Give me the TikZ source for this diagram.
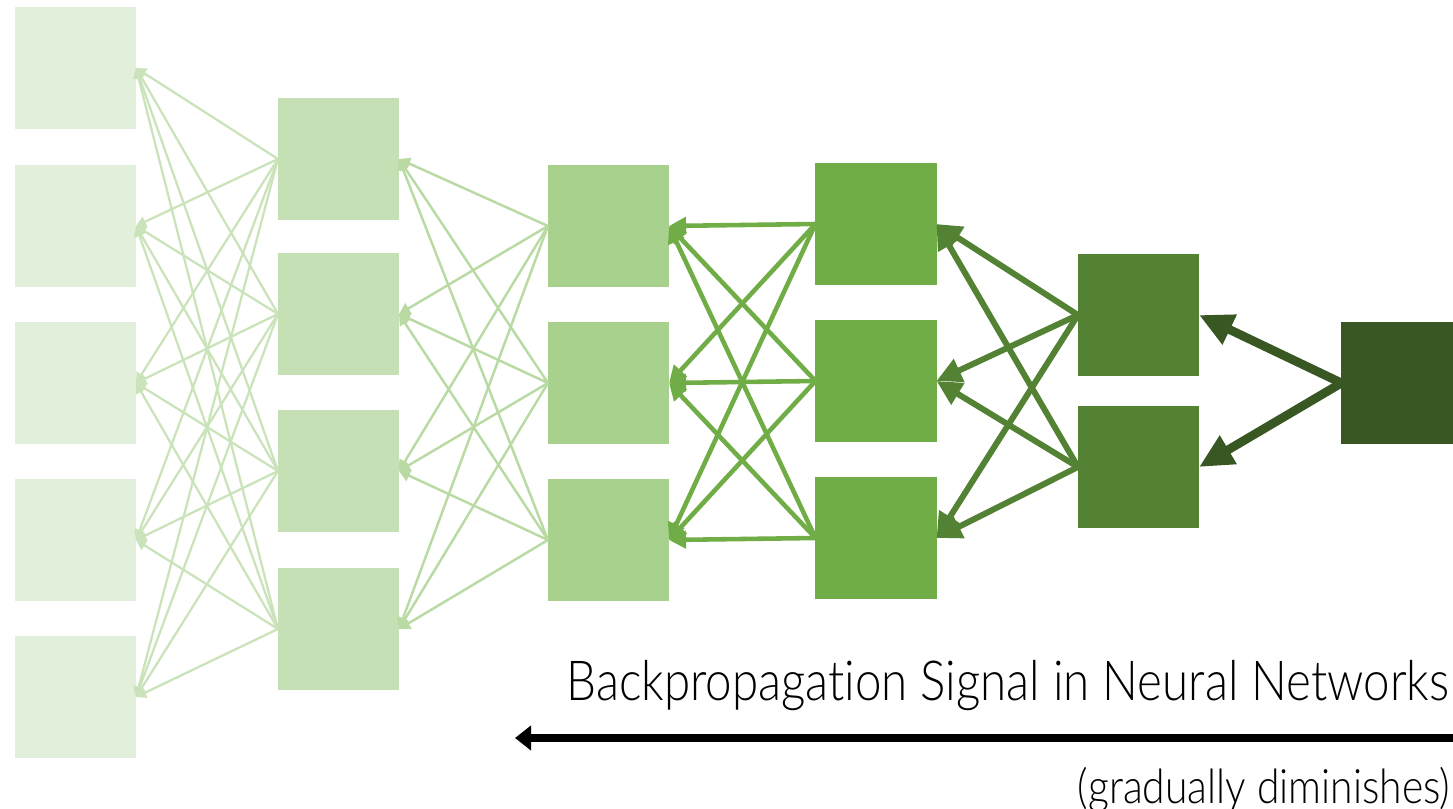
\documentclass[tikz,border=0pt]{standalone}
\usepackage{fontspec}
\setmainfont{Lato Light}[FakeStretch=0.86,Ligatures=NoCommon]
\usetikzlibrary{arrows.meta}

\definecolor{gA}{HTML}{E2EFDA}
\definecolor{gB}{HTML}{C5E0B4}
\definecolor{gC}{HTML}{A9D18E}
\definecolor{gD}{HTML}{70AD47}
\definecolor{gE}{HTML}{548235}
\definecolor{gF}{HTML}{385723}

\tikzset{
  unit/.style={minimum size=1.21cm,inner sep=0pt,outer sep=0pt},
  wAB/.style={gB!90,line width=0.65pt,-{Triangle[length=1mm,width=1.1mm]}},
  wBC/.style={gC!80,line width=0.7pt,-{Triangle[length=1.1mm,width=1.2mm]}},
  wCD/.style={gD,line width=1.3pt,-{Triangle[length=1.7mm,width=1.7mm]}},
  wDE/.style={gE,line width=1.7pt,-{Triangle[length=2.5mm,width=2.4mm]}},
  wEF/.style={gF,line width=2.5pt,-{Triangle[length=3.4mm,width=3.1mm]}}
}

\begin{document}
\begin{tikzpicture}[x=0.01cm,y=-0.01cm]
  \useasboundingbox (0,0) rectangle (1453,809);
  % layers, from input (left) to output (right)
  \foreach \y [count=\i] in {68,226,383,540,697}
    \node[unit,fill=gA] (a\i) at (75.5,\y) {};
  \foreach \y [count=\i] in {159,314,471,629}
    \node[unit,fill=gB] (b\i) at (338.5,\y) {};
  \foreach \y [count=\i] in {226,383,540}
    \node[unit,fill=gC] (c\i) at (608.5,\y) {};
  \foreach \y [count=\i] in {224,381,538}
    \node[unit,fill=gD] (d\i) at (876,\y) {};
  \foreach \y [count=\i] in {315,467}
    \node[unit,fill=gE] (e\i) at (1138.5,\y) {};
  \node[unit,fill=gF] (f1) at (1402,383) {};
  % signal going back
  \foreach \i in {1,...,5} \foreach \j in {1,...,4}
    \draw[wAB] (b\j.west) -- (a\i.east);
  \foreach \i in {1,...,4} \foreach \j in {1,...,3}
    \draw[wBC] (c\j.west) -- (b\i.east);
  \foreach \i in {1,...,3} \foreach \j in {1,...,3}
    \draw[wCD] (d\j.west) -- (c\i.east);
  \foreach \i in {1,...,3} \foreach \j in {1,2}
    \draw[wDE] (e\j.west) -- (d\i.east);
  \foreach \i in {1,2}
    \draw[wEF] (f1.west) -- (e\i.east);
  % caption and arrow
  \node[anchor=east,inner sep=0pt,font=\fontsize{15.7}{17}\selectfont] (title) at (1450,686)
    {Backpropagation Signal in Neural Networks};
  \coordinate (sigR) at (1460,738);
  \coordinate (sigL) at (515,738);
  \draw[black,line width=2pt,-{Triangle[length=1.6mm,width=2.4mm]}] (sigR) -- (sigL);
  \node[anchor=east,inner sep=0pt,font=\fontsize{13.5}{15}\selectfont] (note) at (1451,790)
    {(gradually diminishes)};
\end{tikzpicture}
\end{document}
